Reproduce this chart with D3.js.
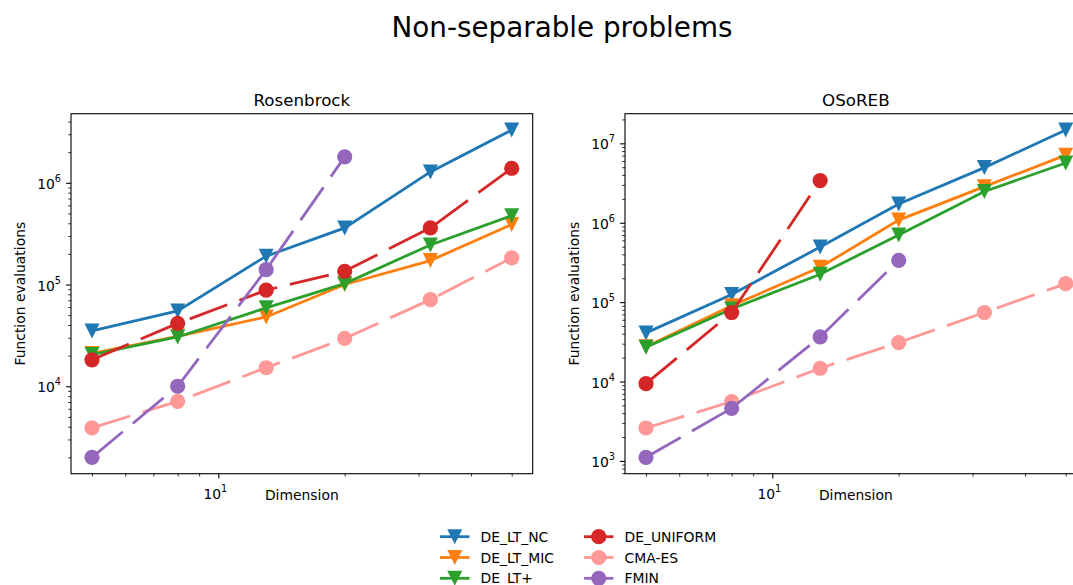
<!DOCTYPE html>
<html>
<head>
<meta charset="utf-8">
<script src="https://cdn.jsdelivr.net/npm/d3@7"></script>
<style>
body { margin: 0; background: #fff; }
text { font-family: "DejaVu Sans", sans-serif; fill: #000; }
</style>
</head>
<body>
<div id="chart"></div>
<script>
// problem dimensions (x values)
var dims = [5, 8, 13, 20, 32, 50];

var names = ["DE_LT_NC", "DE_LT_MIC", "DE_LT+", "DE_UNIFORM", "CMA-ES", "FMIN"];

// Rosenbrock
var rosenNC      = [35000, 55000, 190000, 360000, 1280000, 3300000];
var rosenMIC     = [21000, 31000, 48000, 100000, 172000, 390000];
var rosenPlus    = [20500, 30500, 59000, 102000, 245000, 475000];
var rosenUniform = [18200, 41500, 88000, 135000, 360000, 1390000];
var rosenCMA     = [3900, 7100, 15200, 29500, 71000, 183000];
var rosenFmin    = [2000, 10000, 140000, 1800000];

// OSoREB
var osoNC      = [41000, 125000, 495000, 1720000, 4950000, 14700000];
var osoMIC     = [27500, 90000, 275000, 1080000, 2850000, 7100000];
var osoPlus    = [27000, 82000, 225000, 700000, 2480000, 5650000];
var osoUniform = [9400, 74000, 3400000];
var osoCMA     = [2600, 5600, 14700, 31000, 74000, 171000];
var osoFmin    = [1110, 4600, 36500, 335000];

var xMajor = [10];
var xMinor = [5, 6, 7, 8, 9, 20, 30, 40, 50];

var colors = ["#1f77b4", "#ff7f0e", "#2ca02c", "#d62728", "#ff9896", "#9467bd"];
var markers = ["tri", "tri", "tri", "circle", "circle", "circle"];
var dashes = [null, null, null, "40,13", "40,13", "40,13"];

var panels = [
  {title: "Rosenbrock", left: 71, series: [rosenNC, rosenMIC, rosenPlus, rosenUniform, rosenCMA, rosenFmin]},
  {title: "OSoREB", left: 625, series: [osoNC, osoMIC, osoPlus, osoUniform, osoCMA, osoFmin]}
];

var svgWidth = 1073, svgHeight = 585;
var plotW = 461.7, plotTop = 113.7, plotH = 360;

var svg = d3.select("#chart").append("svg")
  .attr("width", svgWidth)
  .attr("height", svgHeight);

svg.append("text")
  .attr("x", 562).attr("y", 37)
  .attr("text-anchor", "middle")
  .attr("font-size", 27.8)
  .text("Non-separable problems");

function logPad(lo, hi) {
  var a = Math.log10(lo), b = Math.log10(hi), m = (b - a) * 0.05;
  return [Math.pow(10, a - m), Math.pow(10, b + m)];
}

function drawMarker(g, type, color) {
  if (type === "tri") {
    g.append("path").attr("d", "M-7.5,-7.5L7.5,-7.5L0,7.5Z").attr("fill", color);
  } else {
    g.append("circle").attr("r", 7.6).attr("fill", color);
  }
}

function powLabel(sel, exp) {
  sel.append("tspan").text("10");
  sel.append("tspan").attr("dy", -7).attr("font-size", 9.7).text(exp);
}

panels.forEach(function(p) {
  var g = svg.append("g").attr("transform", `translate(${p.left}, ${plotTop})`);

  var all = [];
  p.series.forEach(s => s.forEach(v => all.push(v)));

  var xScale = d3.scaleLog().domain(logPad(5, 50)).range([0, plotW]);
  var yScale = d3.scaleLog().domain(logPad(d3.min(all), d3.max(all))).range([plotH, 0]);

  var yd = yScale.domain();
  var yMajor = [], yMinor = [];
  for (var e = Math.floor(Math.log10(yd[0])); e <= Math.ceil(Math.log10(yd[1])); e++) {
    for (var k = 1; k < 10; k++) {
      var v = k * Math.pow(10, e);
      if (v < yd[0] || v > yd[1]) continue;
      if (k === 1) yMajor.push(v); else yMinor.push(v);
    }
  }

  // ticks
  g.append("g").attr("transform", `translate(0, ${plotH})`)
    .call(d3.axisBottom(xScale).tickValues(xMinor).tickSize(2.8).tickFormat(""))
    .call(a => a.select(".domain").remove())
    .call(a => a.selectAll("line").attr("stroke-width", 0.8));
  g.append("g").attr("transform", `translate(0, ${plotH})`)
    .call(d3.axisBottom(xScale).tickValues(xMajor).tickSize(4.9).tickFormat(""))
    .call(a => a.select(".domain").remove())
    .call(a => a.selectAll("line").attr("stroke-width", 1.1));
  g.append("g")
    .call(d3.axisLeft(yScale).tickValues(yMinor).tickSize(2.8).tickFormat(""))
    .call(a => a.select(".domain").remove())
    .call(a => a.selectAll("line").attr("stroke-width", 0.8));
  g.append("g")
    .call(d3.axisLeft(yScale).tickValues(yMajor).tickSize(4.9).tickFormat(""))
    .call(a => a.select(".domain").remove())
    .call(a => a.selectAll("line").attr("stroke-width", 1.1));

  xMajor.forEach(function(v) {
    g.append("text")
      .attr("x", xScale(v) - 3).attr("y", plotH + 25)
      .attr("text-anchor", "middle").attr("font-size", 13.9)
      .call(powLabel, Math.round(Math.log10(v)));
  });
  yMajor.forEach(function(v) {
    g.append("text")
      .attr("x", -10).attr("y", yScale(v) + 6)
      .attr("text-anchor", "end").attr("font-size", 13.9)
      .call(powLabel, Math.round(Math.log10(v)));
  });

  // axes labels and title
  g.append("text")
    .attr("x", plotW / 2).attr("y", plotH + 26)
    .attr("text-anchor", "middle").attr("font-size", 13.9)
    .text("Dimension");
  g.append("text")
    .attr("transform", `translate(-46, ${plotH / 2}) rotate(-90)`)
    .attr("text-anchor", "middle").attr("font-size", 13.9)
    .text("Function evaluations");
  g.append("text")
    .attr("x", plotW / 2).attr("y", -8)
    .attr("text-anchor", "middle").attr("font-size", 16.7)
    .text(p.title);

  // series
  var line = d3.line().x(d => xScale(d.x)).y(d => yScale(d.y));
  p.series.forEach(function(s, i) {
    var pts = s.map((v, j) => ({x: dims[j], y: v}));
    var sg = g.append("g");
    sg.append("path")
      .attr("d", line(pts))
      .attr("fill", "none")
      .attr("stroke", colors[i])
      .attr("stroke-width", 2.8)
      .attr("stroke-dasharray", dashes[i]);
    pts.forEach(function(d) {
      var m = sg.append("g").attr("transform", `translate(${xScale(d.x)}, ${yScale(d.y)})`);
      drawMarker(m, markers[i], colors[i]);
    });
  });

  g.append("rect")
    .attr("width", plotW).attr("height", plotH)
    .attr("fill", "none").attr("stroke", "#000").attr("stroke-width", 1.1);
});

// legend
var legend = svg.append("g");
names.forEach(function(n, i) {
  var col = Math.floor(i / 3), row = i % 3;
  var lx = col === 0 ? 440 : 584;
  var ly = 536.7 + row * 20.8;
  var lg = legend.append("g").attr("transform", `translate(${lx}, ${ly})`);
  lg.append("line")
    .attr("x1", 0).attr("x2", 29.5)
    .attr("stroke", colors[i]).attr("stroke-width", 2.8);
  var m = lg.append("g").attr("transform", "translate(14.75, 0)");
  drawMarker(m, markers[i], colors[i]);
  lg.append("text")
    .attr("x", 40.5).attr("y", 5)
    .attr("font-size", 13.9)
    .text(n);
});
</script>
</body>
</html>
